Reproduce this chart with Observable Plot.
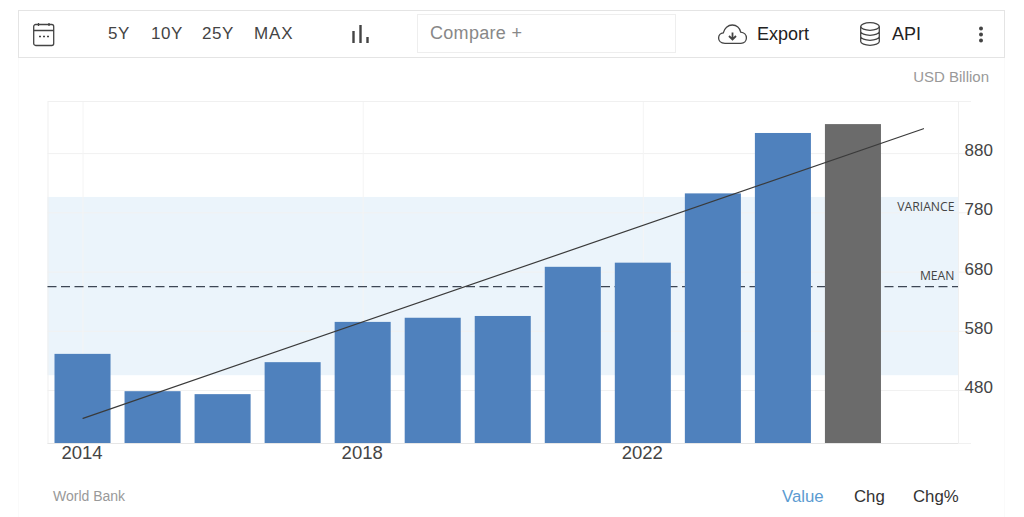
<!DOCTYPE html>
<html>
<head>
<meta charset="utf-8">
<script src="https://cdn.jsdelivr.net/npm/d3@7"></script>
<script src="https://cdn.jsdelivr.net/npm/@observablehq/plot@0.6"></script>
<style>
html,body{margin:0;padding:0;background:#fff;}
#page{position:relative;width:1024px;height:517px;overflow:hidden;font-family:"Liberation Sans",Arial,sans-serif;}
#panel{position:absolute;left:18px;top:57px;width:987px;height:470px;border:1px solid #fafafa;box-sizing:border-box;}
#bar{position:absolute;left:18px;top:10px;width:987px;height:48px;border:1px solid #e4e4e4;box-sizing:border-box;background:#fff;}
#compare{position:absolute;left:417px;top:14px;width:259px;height:39px;border:1px solid #eee;box-sizing:border-box;}
.t{position:absolute;white-space:nowrap;line-height:20px;transform:translateY(-50%);}
#chart{position:absolute;left:0;top:60px;}
svg.i{position:absolute;overflow:visible;fill:none;stroke:#444;}
</style>
</head>
<body>
<div id="page">
  <div id="panel"></div>
  <div id="bar"></div>
  <div id="compare"></div>
  <svg class="i" style="left:33px;top:23px" width="22" height="24" stroke-width="1.3"><rect x="0.7" y="1.5" width="20" height="21" rx="2"/><path d="M1 7.5H21M5.5 0V3M16 0V3"/><path d="M6 13.5h2M10 13.5h2M14 13.5h2" stroke-width="1.6"/></svg>
  <div class="t" style="left:108px;top:34px;font-size:17px;letter-spacing:.6px;color:#444">5Y</div>
  <div class="t" style="left:151px;top:34px;font-size:17px;letter-spacing:.6px;color:#444">10Y</div>
  <div class="t" style="left:202px;top:34px;font-size:17px;letter-spacing:.6px;color:#444">25Y</div>
  <div class="t" style="left:254px;top:34px;font-size:17px;letter-spacing:.9px;color:#444">MAX</div>
  <svg class="i" style="left:352px;top:24px" width="18" height="20" stroke-width="2.4"><path d="M1.5 19V7M8.5 19V1M15.5 19V13"/></svg>
  <div class="t" style="left:430px;top:33px;font-size:18px;letter-spacing:.3px;color:#888">Compare +</div>
  <svg class="i" style="left:718px;top:24px" width="29" height="20" stroke-width="1.3" stroke="#333"><path d="M7 19.3C2.5 19.3.6 16.6.6 14c0-2.8 2-5 4.7-5.2C6.3 4.3 10 1 14.3 1c4.300 0 7.600 3 8.400 7.100 3.400.3 5.700 2.900 5.700 5.900 0 3-2.300 5.300-5.500 5.300z"/><path d="M14.500 8.500v6M11 12l3.500 3.500L18 12" stroke-width="1.800"/></svg>
  <div class="t" style="left:757px;top:34px;font-size:18px;color:#222">Export</div>
  <svg class="i" style="left:860px;top:22px" width="20" height="24" stroke-width="1.3" stroke="#333"><ellipse cx="10" cy="4.500" rx="9.300" ry="3.800"/><path d="M.7 4.500V19.500C.7 21.700 5 23.300 10 23.300s9.300-1.600 9.300-3.800V4.500M.7 9.500C.7 11.700 5 13.300 10 13.300s9.300-1.600 9.300-3.800M.7 14.500C.7 16.700 5 18.300 10 18.300s9.300-1.600 9.300-3.800"/></svg>
  <div class="t" style="left:892px;top:34px;font-size:18px;color:#222">API</div>
  <svg class="i" style="left:978px;top:26px;stroke:none;fill:#444" width="6" height="18"><circle cx="3" cy="2.500" r="2"/><circle cx="3" cy="8.500" r="2"/><circle cx="3" cy="14.500" r="2"/></svg>
  <div class="t" style="right:35px;top:77px;font-size:15px;color:#999">USD Billion</div>
  <div id="chart"></div>
  <div class="t" style="left:53px;top:496px;font-size:14px;color:#999">World Bank</div>
  <div class="t" style="left:782px;top:497px;font-size:16.800px;color:#5b9bd1">Value</div>
  <div class="t" style="left:854px;top:497px;font-size:16.800px;color:#333">Chg</div>
  <div class="t" style="left:913px;top:497px;font-size:16.800px;color:#333">Chg%</div>
</div>
<script>
const years = [2014, 2015, 2016, 2017, 2018, 2019, 2020, 2021, 2022, 2023, 2024, 2025];
const values = [541, 478, 473, 527, 595, 602, 605, 688, 695, 812, 914, 929];
const barColors = ["#4f81bd", "#4f81bd", "#4f81bd", "#4f81bd", "#4f81bd", "#4f81bd", "#4f81bd", "#4f81bd", "#4f81bd", "#4f81bd", "#4f81bd", "#6b6b6b"];
const xDomain = [...years, 2026];
const xTicks = [2014, 2018, 2022];
const yTicks = [480, 580, 680, 780, 880];
const yDomain = [390.5, 968];
const trendYears = [2014, 2026];
const trendValues = [433, 922];
const meanValue = 655.5;
const varianceLow = 505;
const varianceHigh = 806;

const bars = years.map((year, i) => ({year, value: values[i], color: barColors[i]}));
const trend = trendYears.map((year, i) => ({year, value: trendValues[i]}));
const labelFont = {fontFamily: "'Open Sans', Lato, sans-serif", fontSize: 12.200};

const chart = Plot.plot({
  width: 1024,
  height: 420,
  marginLeft: 47.500,
  marginRight: 66,
  marginTop: 41,
  marginBottom: 37,
  style: {background: "transparent", fontFamily: "'Liberation Sans', Arial, sans-serif"},
  x: {type: "band", domain: xDomain, paddingInner: 0.2, paddingOuter: 0.1, round: false, label: null},
  y: {domain: yDomain, label: null},
  marks: [
    Plot.rectY([{y1: varianceLow, y2: varianceHigh}], {y1: "y1", y2: "y2", fill: "#ebf4fb"}),
    Plot.ruleY(yTicks, {stroke: "#f1f1f1", strokeWidth: 1}),
    Plot.ruleX(xTicks, {stroke: "#f4f4f4", strokeWidth: 1}),
    Plot.frame({stroke: "#f0f0f0"}),
    Plot.ruleY([yDomain[0]], {stroke: "#e6e6e6"}),
    Plot.axisY({anchor: "right", ticks: [yDomain[0], ...yTicks, yDomain[1]], tickSize: 12, stroke: "#f1f1f1", tickFormat: () => null, label: null}),
    Plot.ruleY([meanValue], {stroke: "#3d4654", strokeWidth: 1.200, strokeDasharray: "9,4.500"}),
    Plot.barY(bars, {x: "year", y1: yDomain[0], y2: "value", fill: "color"}),
    Plot.line(trend, {x: "year", y: "value", stroke: "#3a3a3a", strokeWidth: 1.200}),
    Plot.text(["VARIANCE"], {frameAnchor: "right", y: varianceHigh, dx: -4, dy: 10, fill: "#444", ...labelFont}),
    Plot.text(["MEAN"], {frameAnchor: "right", y: meanValue, dx: -4, dy: -10, fill: "#444", ...labelFont}),
    Plot.axisY({anchor: "right", ticks: yTicks, tickSize: 0, tickPadding: 6, dy: -3, fontSize: 17, color: "#444", label: null}),
    Plot.axisX({ticks: xTicks, tickSize: 0, tickPadding: 0, dx: -1, dy: 2, fontSize: 18.500, color: "#444", tickFormat: d => String(d), label: null})
  ]
});
document.getElementById("chart").appendChild(chart);
</script>
</body>
</html>
